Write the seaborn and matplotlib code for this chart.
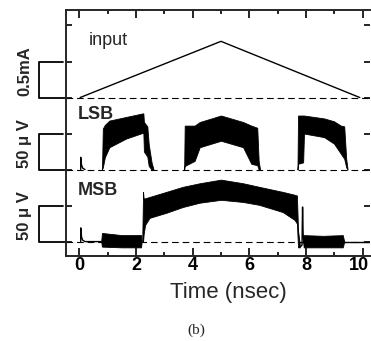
import pandas as pd
import seaborn as sns
import matplotlib.pyplot as plt
from matplotlib.ticker import MultipleLocator
from matplotlib.transforms import blended_transform_factory, ScaledTranslation

# ---- values ----
# input current (mA), triangular ramp
input_t = [0.03, 5.0, 9.9]
input_ma = [0.0, 0.78, 0.0]

# LSB output (uV): thin trace and envelopes of the three oscillating pulses
lsb_line_t = [0.05, 0.05, 0.08, 0.12, 0.20]
lsb_line_uv = [0, 17, 6, 2, 0]

lsb_t1 = [0.80, 0.83, 0.90, 1.06, 1.65, 2.24, 2.26, 2.28, 2.40, 2.45, 2.55, 2.62]
lsb_hi1 = [0, 57, 62, 68, 73, 78, 78, 66, 60, 35, 10, 0]
lsb_lo1 = [0, 3, 17, 31, 43, 51, 51, 25, 18, 5, 0, 0]

lsb_t2 = [3.70, 3.72, 4.07, 4.25, 5.00, 5.78, 6.07, 6.28, 6.33, 6.38]
lsb_hi2 = [0, 61, 61, 66, 75, 66, 61, 58, 12, 0]
lsb_lo2 = [0, 5, 12, 31, 40, 31, 8, 6, 0, 0]

lsb_t3 = [7.70, 7.72, 7.90, 7.93, 8.64, 8.99, 9.23, 9.35, 9.42, 9.47]
lsb_hi3 = [0, 75, 75, 75, 71, 67, 61, 60, 15, 0]
lsb_lo3 = [0, 8, 10, 50, 45, 36, 22, 15, 3, 0]

# MSB output (uV)
msb_line_t = [0.05, 0.05, 0.08, 0.12, 0.20, 0.77]
msb_line_uv = [0, 19, 6, 2, 0, 0]

msb_band1_t = [0.77, 0.80, 1.50, 2.18, 2.20]
msb_band1_hi = [0, 12, 9, 9, 0]
msb_band1_lo = [0, -7, -8, -8, 0]

msb_t = [2.22, 2.25, 2.27, 2.32, 2.48, 3.07, 3.65, 4.25, 5.00, 5.78, 6.35, 7.18,
         7.60, 7.68, 7.72, 7.78]
msb_hi = [0, 69, 60, 60, 62, 69, 76, 81, 86, 81, 76, 69, 65, 64, 15, -3]
msb_lo = [0, 0, 10, 23, 33, 40, 48, 54, 58, 55, 51, 41, 30, 25, -8, -8]

msb_spike_t = [7.78, 7.86, 7.88, 7.90, 7.93]
msb_spike_uv = [-8, -5, 48, 10, -2]

msb_band2_t = [7.90, 7.92, 8.60, 9.30, 9.35]
msb_band2_hi = [0, 9, 8, 9, 0]
msb_band2_lo = [0, -8, -8, -8, 0]

msb_tail_t = [9.35, 10.3]
msb_tail_uv = [0, 0]

x_major = [0, 2, 4, 6, 8, 10]

# vertical layout: one division = 0.5 mA or 50 uV
input_base, lsb_base, msb_base = 4.4, 2.4, 0.4
ma_per_div, uv_per_div = 0.5, 50.0

sns.set_style("ticks")
plt.rcParams["font.family"] = ["Liberation Sans", "DejaVu Sans"]

fig = plt.figure(figsize=(3.71, 3.41), dpi=100)
ax = fig.add_axes([66 / 371, 85 / 341, 304 / 371, 246 / 341])
ax.set_xlim(-0.47, 10.26)
ax.set_ylim(0, 6.83)


def to_y(vals, base, per_div):
    return [base + v / per_div for v in vals]


# dashed zero lines
for base in (input_base, lsb_base, msb_base):
    ax.axhline(base, color="black", lw=0.8, dashes=(6, 3.5))

# input ramp
sns.lineplot(x=input_t, y=to_y(input_ma, input_base, ma_per_div), ax=ax,
             color="black", lw=1.0, estimator=None, sort=False)

# LSB
sns.lineplot(x=lsb_line_t, y=to_y(lsb_line_uv, lsb_base, uv_per_div), ax=ax,
             color="black", lw=1.0, estimator=None, sort=False)
for t, hi, lo in [(lsb_t1, lsb_hi1, lsb_lo1), (lsb_t2, lsb_hi2, lsb_lo2),
                  (lsb_t3, lsb_hi3, lsb_lo3)]:
    ax.fill_between(t, to_y(lo, lsb_base, uv_per_div), to_y(hi, lsb_base, uv_per_div),
                    color="black", lw=0.6)

# MSB
for t, v in [(msb_line_t, msb_line_uv), (msb_spike_t, msb_spike_uv),
             (msb_tail_t, msb_tail_uv)]:
    sns.lineplot(x=t, y=to_y(v, msb_base, uv_per_div), ax=ax,
                 color="black", lw=1.0, estimator=None, sort=False)
for t, hi, lo in [(msb_band1_t, msb_band1_hi, msb_band1_lo), (msb_t, msb_hi, msb_lo),
                  (msb_band2_t, msb_band2_hi, msb_band2_lo)]:
    ax.fill_between(t, to_y(lo, msb_base, uv_per_div), to_y(hi, msb_base, uv_per_div),
                    color="black", lw=0.6)

# scale brackets left of the axis
trans = blended_transform_factory(ax.transAxes, ax.transData)
for base, label in [(input_base, "0.5mA"), (lsb_base, "50 μ V"), (msb_base, "50 μ V")]:
    ax.plot([-0.01, -0.089, -0.089, 0.0], [base + 1, base + 1, base, base],
            transform=trans, clip_on=False, color="black", lw=1.3)
    ax.text(-0.135, base + 0.72, label, transform=trans, rotation=90,
            ha="center", va="center", fontsize=12, fontweight="bold")

ax.text(0.34, 5.85, "input", fontsize=13)
ax.text(-0.05, 3.8, "LSB", fontsize=13, fontweight="bold")
ax.text(-0.05, 1.7, "MSB", fontsize=13, fontweight="bold")

# axes styling
for side in ("left", "top", "bottom"):
    ax.spines[side].set_linewidth(1.4)
ax.spines["right"].set_visible(False)
ax.set_xticks(x_major)
ax.set_xticklabels([str(v) for v in x_major], fontweight="bold", fontsize=13)
ax.xaxis.set_minor_locator(MultipleLocator(1))
ax.set_yticks([0.4, 1.4, 2.4, 3.4, 4.4, 5.4, 6.4])
ax.set_yticklabels([])
ax.tick_params(axis="both", which="both", direction="in", top=True, right=True,
               width=1.2, colors="black")
ax.tick_params(axis="x", which="major", length=6, pad=1)
ax.tick_params(axis="x", which="minor", length=3)
ax.tick_params(axis="y", length=4)

# keep the last tick label inside the picture
last = ax.get_xticklabels()[-1]
last.set_transform(last.get_transform() + ScaledTranslation(-4 / 100, 0, fig.dpi_scale_trans))

ax.set_xlabel("Time (nsec)", fontsize=16)
ax.xaxis.set_label_coords(0.533, -0.105)
ax.set_ylabel("")

fig.text(196 / 371, 1 - 330 / 341, "(b)", family="Liberation Serif", fontsize=11,
         ha="center", va="center")

fig.savefig("out.png", dpi=100)
